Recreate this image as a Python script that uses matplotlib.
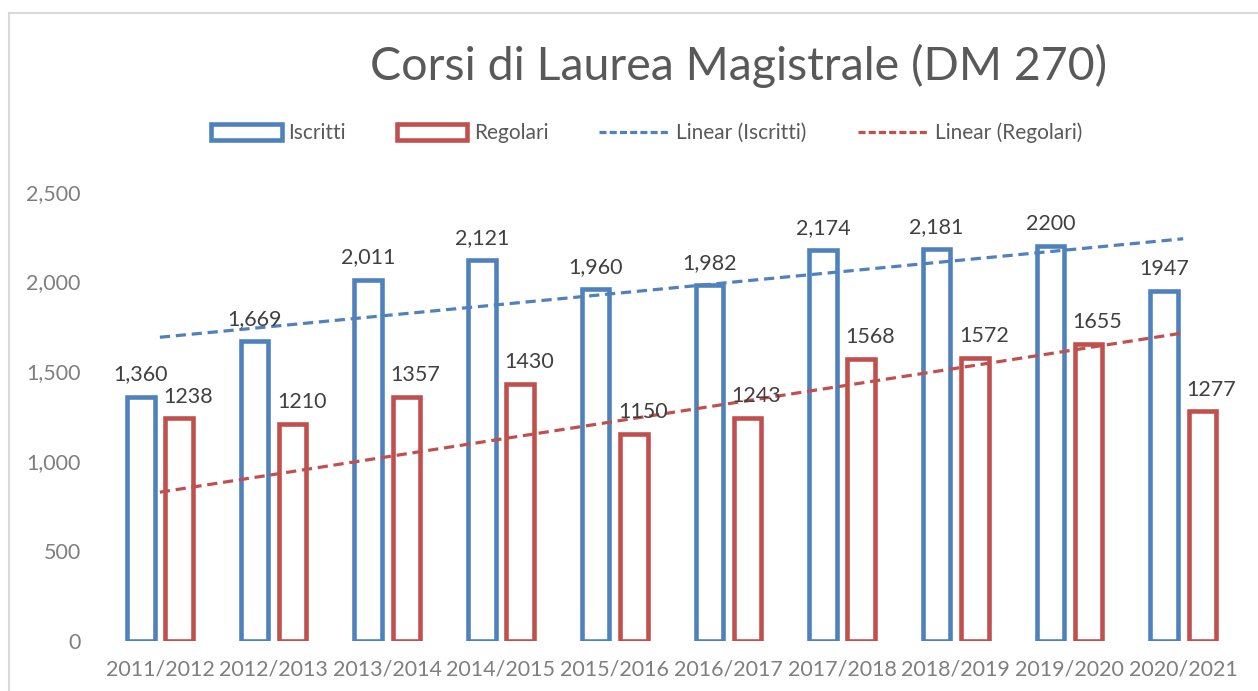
import numpy as np
import matplotlib
matplotlib.use("Agg")
import matplotlib.pyplot as plt
from matplotlib.lines import Line2D
from matplotlib.patches import Patch

# data
years = ["2011/2012", "2012/2013", "2013/2014", "2014/2015", "2015/2016",
         "2016/2017", "2017/2018", "2018/2019", "2019/2020", "2020/2021"]
iscritti = [1360, 1669, 2011, 2121, 1960, 1982, 2174, 2181, 2200, 1947]
regolari = [1238, 1210, 1357, 1430, 1150, 1243, 1568, 1572, 1655, 1277]
iscritti_labels = ["1,360", "1,669", "2,011", "2,121", "1,960", "1,982",
                   "2,174", "2,181", "2200", "1947"]
regolari_labels = ["1238", "1210", "1357", "1430", "1150", "1243",
                   "1568", "1572", "1655", "1277"]
# trendline end values (first and last category), as shown in the chart
trend_iscritti = [1690, 2238]
trend_regolari = [828, 1714]

BLUE = "#4F81BD"
RED = "#C0504D"

plt.rcParams["font.family"] = ["Lato", "DejaVu Sans"]

fig = plt.figure(figsize=(12.58, 6.91), dpi=100)
ax = fig.add_axes([0.0819, 0.0724, 0.9038, 0.6502])

x = np.arange(len(years))
w = 0.242
off = 0.168
ax.bar(x - off, iscritti, w, facecolor="white", edgecolor=BLUE, linewidth=3.3, zorder=2)
ax.bar(x + off, regolari, w, facecolor="white", edgecolor=RED, linewidth=3.3, zorder=2)

ends = [x[0], x[-1]]
ax.plot(ends, trend_iscritti, color=BLUE, lw=2.3, dashes=(3.2, 1.8), zorder=3)
ax.plot(ends, trend_regolari, color=RED, lw=2.3, dashes=(3.2, 1.8), zorder=3)

for i in range(len(years)):
    ax.annotate(iscritti_labels[i], (x[i] - off, iscritti[i]), xytext=(0, 11.5),
                textcoords="offset points", ha="center", va="baseline",
                fontsize=15.5, color="#404040", annotation_clip=False)
    ax.annotate(regolari_labels[i], (x[i] + off + 0.08, regolari[i]), xytext=(0, 11.5),
                textcoords="offset points", ha="center", va="baseline",
                fontsize=15.5, color="#404040", annotation_clip=False)

ax.set_xlim(-0.5, len(years) - 0.5)
ax.set_ylim(0, 2500)
ax.set_yticks([0, 500, 1000, 1500, 2000, 2500])
ax.set_yticklabels(["0", "500", "1,000", "1,500", "2,000", "2,500"])
ax.set_xticks(x)
ax.set_xticklabels(years)
ax.tick_params(axis="both", length=0, labelsize=15.5, labelcolor="#7F7F7F")
ax.tick_params(axis="y", pad=16)
ax.tick_params(axis="x", pad=13)
for s in ax.spines.values():
    s.set_visible(False)

fig.text(0.5874, 0.884, "Corsi di Laurea Magistrale (DM 270)", ha="center",
         va="baseline", fontsize=33.5, color="#595959")

handles = [
    Patch(facecolor="white", edgecolor=BLUE, linewidth=3.3),
    Patch(facecolor="white", edgecolor=RED, linewidth=3.3),
    Line2D([], [], color=BLUE, lw=2.3, dashes=(2.2, 1.0)),
    Line2D([], [], color=RED, lw=2.3, dashes=(2.2, 1.0)),
]
labels = ["Iscritti", "Regolari", "Linear (Iscritti)", "Linear (Regolari)"]
fig.legend(handles, labels, loc="center", bbox_to_anchor=(0.514, 0.8075), ncol=4,
           frameon=False, fontsize=15, labelcolor="#595959", handlelength=3.4,
           handleheight=0.8, handletextpad=0.3, columnspacing=2.45)

# light border of the chart area
fig.add_artist(Line2D([0.0075, 0.0075], [0, 0.981], color="#D9D9D9", lw=1.5))
fig.add_artist(Line2D([0.0075, 0.999], [0.981, 0.981], color="#D9D9D9", lw=1.5))

fig.savefig("out.png", dpi=100)
